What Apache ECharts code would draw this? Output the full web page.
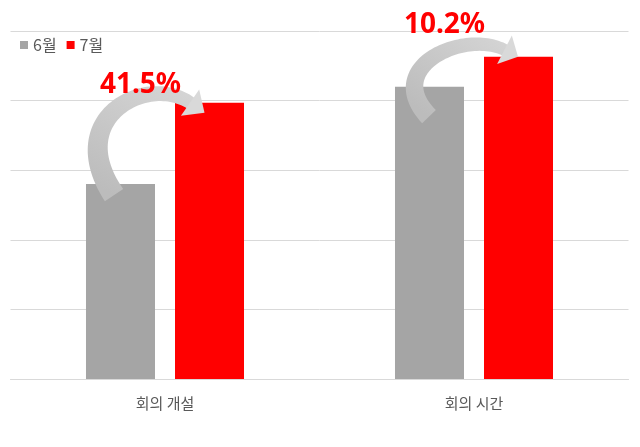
<!DOCTYPE html>
<html><head><meta charset="utf-8">
<script src="https://cdn.jsdelivr.net/npm/echarts@6/dist/echarts.min.js"></script>
<style>html,body{margin:0;padding:0;background:#fff}#c{width:640px;height:447px}</style>
</head><body><div id="c"></div>
<script>
// ---- data ----
const categories = ['회의 개설', '회의 시간'];
const seriesNames = ['6월', '7월'];
const juneValues = [2.80, 4.20];
const julyValues = [3.97, 4.63];
const changeLabels = ['41.5%', '10.2%'];

// ---- annotation layout (pixel offsets relative to bar tops) ----
const arrowStyle = [
  {tail:[-6.5,11], tip:[-5,10], dir:[0.82,0.57], cp1:[-52,-78], cp2Len:52, headLen:17.6, headW:32, wTail:22, wHead:13, label:[-69,-18]},
  {tail:[-0.5,30], tip:[-0.5,0], dir:[0.89,0.46], cp1:[-48,-50], cp2Len:45, headLen:15.2, headW:32, wTail:19, wHead:12, label:[-74,-32]}
];
const BAR_W = 69, GAP = 20;
const FONT = '"Noto Sans CJK KR", "Noto Sans", sans-serif';

const chart = echarts.init(document.getElementById('c'));
chart.setOption({
  animation: false,
  backgroundColor: '#fff',
  legend: {
    data: seriesNames, left: 15, top: 32, icon: 'rect', itemWidth: 8, itemHeight: 8, itemGap: 10,
    textStyle: {fontSize: 16, color: '#595959', fontFamily: FONT}
  },
  grid: {left: 10.5, right: 11.5, top: 31, bottom: 68, containLabel: false},
  xAxis: {
    type: 'category', data: categories,
    axisLine: {lineStyle: {color: '#d9d9d9', width: 1}},
    axisTick: {show: false},
    axisLabel: {fontSize: 15, color: '#595959', margin: 17, fontFamily: FONT}
  },
  yAxis: {
    type: 'value', min: 0, max: 5, interval: 1,
    axisLabel: {show: false}, axisLine: {show: false}, axisTick: {show: false},
    splitLine: {lineStyle: {color: '#d9d9d9', width: 1}}
  },
  series: [
    {name: seriesNames[0], type: 'bar', data: juneValues, barWidth: BAR_W, barGap: (GAP / BAR_W * 100).toFixed(1) + '%', itemStyle: {color: '#a5a5a5'}},
    {name: seriesNames[1], type: 'bar', data: julyValues, barWidth: BAR_W, itemStyle: {color: '#ff0000'}}
  ]
});

function bez(P0, P1, P2, P3, t) {
  const u = 1 - t;
  const p = [0, 1].map(k => u*u*u*P0[k] + 3*u*u*t*P1[k] + 3*u*t*t*P2[k] + t*t*t*P3[k]);
  const dv = [0, 1].map(k => 3*u*u*(P1[k]-P0[k]) + 6*u*t*(P2[k]-P1[k]) + 3*t*t*(P3[k]-P2[k]));
  const L = Math.hypot(dv[0], dv[1]) || 1;
  return {p, n: [-dv[1]/L, dv[0]/L]};
}

function addArrows() {
  const off = (BAR_W + GAP) / 2;
  const g = [];
  categories.forEach((c, i) => {
    const gp = chart.convertToPixel({gridIndex: 0}, [i, juneValues[i]]);
    const rp = chart.convertToPixel({gridIndex: 0}, [i, julyValues[i]]);
    const G = [gp[0] - off, gp[1]], R = [rp[0] + off, rp[1]];
    const s = arrowStyle[i];
    const d = s.dir;
    const T = [G[0] + s.tail[0], G[1] + s.tail[1]];
    const Tip = [R[0] + s.tip[0], R[1] + s.tip[1]];
    const E = [Tip[0] - s.headLen * d[0], Tip[1] - s.headLen * d[1]];
    const P1 = [T[0] + s.cp1[0], T[1] + s.cp1[1]];
    const P2 = [E[0] - s.cp2Len * d[0], E[1] - s.cp2Len * d[1]];
    const Pend = [E[0] + d[0], E[1] + d[1]];
    const left = [], right = [];
    const N = 60;
    for (let k = 0; k <= N; k++) {
      const t = k / N;
      const b = bez(T, P1, P2, Pend, t);
      const w = (s.wTail + (s.wHead - s.wTail) * t) / 2;
      left.push([b.p[0] + b.n[0]*w, b.p[1] + b.n[1]*w]);
      right.push([b.p[0] - b.n[0]*w, b.p[1] - b.n[1]*w]);
    }
    const pts = left.concat(right.reverse());
    g.push({
      type: 'polygon', z: 100,
      shape: {points: pts},
      style: {
        fill: {type: 'linear', x: T[0], y: T[1], x2: E[0], y2: E[1] - 40, global: true,
          colorStops: [{offset: 0, color: '#bcbcbc'}, {offset: 1, color: '#dadada'}]}
      }
    });
    const perp = [-d[1], d[0]];
    const hw = s.headW / 2;
    g.push({
      type: 'polygon', z: 101,
      shape: {points: [Tip, [E[0] + perp[0] * hw, E[1] + perp[1] * hw], [E[0] - perp[0] * hw, E[1] - perp[1] * hw]]},
      style: {fill: '#d9d9d9'}
    });
    g.push({
      type: 'text', z: 102,
      style: {text: changeLabels[i], x: R[0] + s.label[0], y: R[1] + s.label[1], fill: '#ff0000',
        font: 'bold 28px "Noto Sans", sans-serif', textAlign: 'center', textVerticalAlign: 'middle'}
    });
  });
  chart.setOption({graphic: g});
}
addArrows();
</script>
</body></html>
